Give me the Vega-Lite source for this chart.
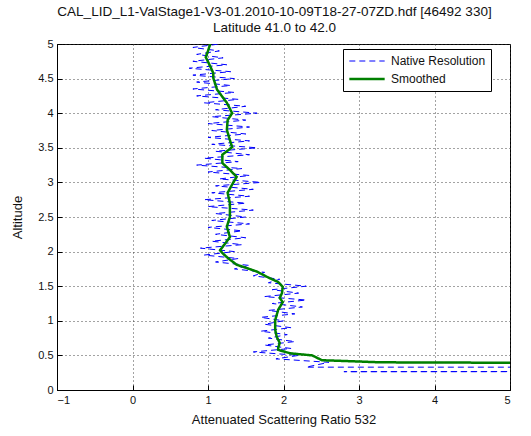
{
  "$schema": "https://vega.github.io/schema/vega-lite/v6.json",
  "width": 453,
  "height": 346,
  "autosize": "none",
  "padding": {"left": 57, "top": 44, "right": 21, "bottom": 46},
  "background": "white",
  "title": {
    "text": ["CAL_LID_L1-ValStage1-V3-01.2010-10-09T18-27-07ZD.hdf [46492 330]", "Latitude 41.0 to 42.0"],
    "font": "Liberation Sans",
    "fontSize": 13.5,
    "fontWeight": "normal",
    "color": "#111",
    "anchor": "middle",
    "dx": -9,
    "offset": 4,
    "lineHeight": 16
  },
  "config": {
    "view": {"stroke": "black", "strokeWidth": 1},
    "font": "Liberation Sans",
    "axis": {
      "labelFont": "Liberation Sans",
      "labelFontSize": 11,
      "labelColor": "#111",
      "titleFont": "Liberation Sans",
      "titleFontSize": 13,
      "titleFontWeight": "normal",
      "titleColor": "#111",
      "domainColor": "black",
      "tickColor": "black",
      "tickSize": -5,
      "labelPadding": 9,
      "gridColor": "#333",
      "gridDash": [1, 3],
      "gridOpacity": 0.9
    }
  },
  "data": {
    "values": [
      {"alt": 0.20, "ratio": 60, "series": "Native Resolution"},
      {"alt": 0.26, "ratio": 60, "series": "Native Resolution"},
      {"alt": 0.265, "ratio": 2.8, "series": "Native Resolution"},
      {"alt": 0.325, "ratio": 60, "series": "Native Resolution"},
      {"alt": 0.33, "ratio": 2.3, "series": "Native Resolution"},
      {"alt": 0.40, "ratio": 2.6, "series": "Native Resolution"},
      {"alt": 0.45, "ratio": 1.9, "series": "Native Resolution"},
      {"alt": 0.50, "ratio": 2.2, "series": "Native Resolution"},
      {"alt": 0.55, "ratio": 1.6, "series": "Native Resolution"},
      {"alt": 0.60, "ratio": 2.1, "series": "Native Resolution"},
      {"alt": 0.65, "ratio": 1.75, "series": "Native Resolution"},
      {"alt": 0.70, "ratio": 2.15, "series": "Native Resolution"},
      {"alt": 0.75, "ratio": 1.8, "series": "Native Resolution"},
      {"alt": 0.80, "ratio": 2.05, "series": "Native Resolution"},
      {"alt": 0.85, "ratio": 1.7, "series": "Native Resolution"},
      {"alt": 0.90, "ratio": 2.1, "series": "Native Resolution"},
      {"alt": 0.95, "ratio": 1.75, "series": "Native Resolution"},
      {"alt": 1.00, "ratio": 2.0, "series": "Native Resolution"},
      {"alt": 1.05, "ratio": 1.7, "series": "Native Resolution"},
      {"alt": 1.10, "ratio": 2.15, "series": "Native Resolution"},
      {"alt": 1.15, "ratio": 1.8, "series": "Native Resolution"},
      {"alt": 1.20, "ratio": 2.25, "series": "Native Resolution"},
      {"alt": 1.25, "ratio": 1.85, "series": "Native Resolution"},
      {"alt": 1.30, "ratio": 2.3, "series": "Native Resolution"},
      {"alt": 1.35, "ratio": 1.75, "series": "Native Resolution"},
      {"alt": 1.40, "ratio": 2.2, "series": "Native Resolution"},
      {"alt": 1.45, "ratio": 1.85, "series": "Native Resolution"},
      {"alt": 1.50, "ratio": 2.3, "series": "Native Resolution"},
      {"alt": 1.55, "ratio": 1.8, "series": "Native Resolution"},
      {"alt": 1.60, "ratio": 1.95, "series": "Native Resolution"},
      {"alt": 1.65, "ratio": 1.6, "series": "Native Resolution"},
      {"alt": 1.70, "ratio": 1.75, "series": "Native Resolution"},
      {"alt": 1.75, "ratio": 1.35, "series": "Native Resolution"},
      {"alt": 1.80, "ratio": 1.55, "series": "Native Resolution"},
      {"alt": 1.85, "ratio": 1.1, "series": "Native Resolution"},
      {"alt": 1.90, "ratio": 1.4, "series": "Native Resolution"},
      {"alt": 1.95, "ratio": 0.95, "series": "Native Resolution"},
      {"alt": 2.00, "ratio": 1.35, "series": "Native Resolution"},
      {"alt": 2.05, "ratio": 0.9, "series": "Native Resolution"},
      {"alt": 2.10, "ratio": 1.45, "series": "Native Resolution"},
      {"alt": 2.15, "ratio": 1.05, "series": "Native Resolution"},
      {"alt": 2.20, "ratio": 1.5, "series": "Native Resolution"},
      {"alt": 2.25, "ratio": 1.1, "series": "Native Resolution"},
      {"alt": 2.30, "ratio": 1.45, "series": "Native Resolution"},
      {"alt": 2.35, "ratio": 1.0, "series": "Native Resolution"},
      {"alt": 2.40, "ratio": 1.55, "series": "Native Resolution"},
      {"alt": 2.45, "ratio": 1.05, "series": "Native Resolution"},
      {"alt": 2.50, "ratio": 1.5, "series": "Native Resolution"},
      {"alt": 2.55, "ratio": 1.1, "series": "Native Resolution"},
      {"alt": 2.60, "ratio": 1.6, "series": "Native Resolution"},
      {"alt": 2.65, "ratio": 1.0, "series": "Native Resolution"},
      {"alt": 2.70, "ratio": 1.5, "series": "Native Resolution"},
      {"alt": 2.75, "ratio": 0.95, "series": "Native Resolution"},
      {"alt": 2.80, "ratio": 1.55, "series": "Native Resolution"},
      {"alt": 2.85, "ratio": 1.05, "series": "Native Resolution"},
      {"alt": 2.90, "ratio": 1.6, "series": "Native Resolution"},
      {"alt": 2.95, "ratio": 1.1, "series": "Native Resolution"},
      {"alt": 3.00, "ratio": 1.7, "series": "Native Resolution"},
      {"alt": 3.05, "ratio": 1.15, "series": "Native Resolution"},
      {"alt": 3.10, "ratio": 1.55, "series": "Native Resolution"},
      {"alt": 3.15, "ratio": 1.0, "series": "Native Resolution"},
      {"alt": 3.20, "ratio": 1.45, "series": "Native Resolution"},
      {"alt": 3.25, "ratio": 0.85, "series": "Native Resolution"},
      {"alt": 3.30, "ratio": 1.4, "series": "Native Resolution"},
      {"alt": 3.35, "ratio": 0.95, "series": "Native Resolution"},
      {"alt": 3.40, "ratio": 1.55, "series": "Native Resolution"},
      {"alt": 3.45, "ratio": 1.1, "series": "Native Resolution"},
      {"alt": 3.50, "ratio": 1.65, "series": "Native Resolution"},
      {"alt": 3.55, "ratio": 1.05, "series": "Native Resolution"},
      {"alt": 3.60, "ratio": 1.55, "series": "Native Resolution"},
      {"alt": 3.65, "ratio": 1.0, "series": "Native Resolution"},
      {"alt": 3.70, "ratio": 1.5, "series": "Native Resolution"},
      {"alt": 3.75, "ratio": 1.05, "series": "Native Resolution"},
      {"alt": 3.80, "ratio": 1.55, "series": "Native Resolution"},
      {"alt": 3.85, "ratio": 1.0, "series": "Native Resolution"},
      {"alt": 3.90, "ratio": 1.5, "series": "Native Resolution"},
      {"alt": 3.95, "ratio": 1.05, "series": "Native Resolution"},
      {"alt": 4.00, "ratio": 1.65, "series": "Native Resolution"},
      {"alt": 4.05, "ratio": 1.1, "series": "Native Resolution"},
      {"alt": 4.10, "ratio": 1.5, "series": "Native Resolution"},
      {"alt": 4.15, "ratio": 0.95, "series": "Native Resolution"},
      {"alt": 4.20, "ratio": 1.4, "series": "Native Resolution"},
      {"alt": 4.25, "ratio": 0.85, "series": "Native Resolution"},
      {"alt": 4.30, "ratio": 1.35, "series": "Native Resolution"},
      {"alt": 4.35, "ratio": 0.8, "series": "Native Resolution"},
      {"alt": 4.40, "ratio": 1.3, "series": "Native Resolution"},
      {"alt": 4.45, "ratio": 0.85, "series": "Native Resolution"},
      {"alt": 4.50, "ratio": 1.35, "series": "Native Resolution"},
      {"alt": 4.55, "ratio": 0.8, "series": "Native Resolution"},
      {"alt": 4.60, "ratio": 1.3, "series": "Native Resolution"},
      {"alt": 4.65, "ratio": 0.75, "series": "Native Resolution"},
      {"alt": 4.70, "ratio": 1.25, "series": "Native Resolution"},
      {"alt": 4.75, "ratio": 0.8, "series": "Native Resolution"},
      {"alt": 4.80, "ratio": 1.2, "series": "Native Resolution"},
      {"alt": 4.85, "ratio": 0.85, "series": "Native Resolution"},
      {"alt": 4.90, "ratio": 1.15, "series": "Native Resolution"},
      {"alt": 4.95, "ratio": 0.8, "series": "Native Resolution"},
      {"alt": 5.00, "ratio": 1.15, "series": "Native Resolution"},
      {"alt": 0.39, "ratio": 6.0, "series": "Smoothed"},
      {"alt": 0.40, "ratio": 3.28, "series": "Smoothed"},
      {"alt": 0.42, "ratio": 2.79, "series": "Smoothed"},
      {"alt": 0.43, "ratio": 2.51, "series": "Smoothed"},
      {"alt": 0.50, "ratio": 2.38, "series": "Smoothed"},
      {"alt": 0.53, "ratio": 2.09, "series": "Smoothed"},
      {"alt": 0.58, "ratio": 1.93, "series": "Smoothed"},
      {"alt": 0.61, "ratio": 1.93, "series": "Smoothed"},
      {"alt": 0.68, "ratio": 1.95, "series": "Smoothed"},
      {"alt": 0.77, "ratio": 1.91, "series": "Smoothed"},
      {"alt": 0.87, "ratio": 1.89, "series": "Smoothed"},
      {"alt": 1.01, "ratio": 1.89, "series": "Smoothed"},
      {"alt": 1.16, "ratio": 1.93, "series": "Smoothed"},
      {"alt": 1.27, "ratio": 1.99, "series": "Smoothed"},
      {"alt": 1.33, "ratio": 1.95, "series": "Smoothed"},
      {"alt": 1.40, "ratio": 1.98, "series": "Smoothed"},
      {"alt": 1.49, "ratio": 1.99, "series": "Smoothed"},
      {"alt": 1.56, "ratio": 1.93, "series": "Smoothed"},
      {"alt": 1.63, "ratio": 1.79, "series": "Smoothed"},
      {"alt": 1.71, "ratio": 1.65, "series": "Smoothed"},
      {"alt": 1.76, "ratio": 1.52, "series": "Smoothed"},
      {"alt": 1.81, "ratio": 1.38, "series": "Smoothed"},
      {"alt": 1.91, "ratio": 1.26, "series": "Smoothed"},
      {"alt": 1.98, "ratio": 1.19, "series": "Smoothed"},
      {"alt": 2.02, "ratio": 1.16, "series": "Smoothed"},
      {"alt": 2.12, "ratio": 1.23, "series": "Smoothed"},
      {"alt": 2.21, "ratio": 1.29, "series": "Smoothed"},
      {"alt": 2.36, "ratio": 1.25, "series": "Smoothed"},
      {"alt": 2.50, "ratio": 1.29, "series": "Smoothed"},
      {"alt": 2.60, "ratio": 1.29, "series": "Smoothed"},
      {"alt": 2.70, "ratio": 1.29, "series": "Smoothed"},
      {"alt": 2.85, "ratio": 1.26, "series": "Smoothed"},
      {"alt": 2.99, "ratio": 1.33, "series": "Smoothed"},
      {"alt": 3.08, "ratio": 1.38, "series": "Smoothed"},
      {"alt": 3.18, "ratio": 1.29, "series": "Smoothed"},
      {"alt": 3.28, "ratio": 1.19, "series": "Smoothed"},
      {"alt": 3.40, "ratio": 1.19, "series": "Smoothed"},
      {"alt": 3.51, "ratio": 1.32, "series": "Smoothed"},
      {"alt": 3.61, "ratio": 1.29, "series": "Smoothed"},
      {"alt": 3.76, "ratio": 1.25, "series": "Smoothed"},
      {"alt": 3.90, "ratio": 1.26, "series": "Smoothed"},
      {"alt": 4.00, "ratio": 1.32, "series": "Smoothed"},
      {"alt": 4.15, "ratio": 1.25, "series": "Smoothed"},
      {"alt": 4.34, "ratio": 1.12, "series": "Smoothed"},
      {"alt": 4.51, "ratio": 1.07, "series": "Smoothed"},
      {"alt": 4.58, "ratio": 1.07, "series": "Smoothed"},
      {"alt": 4.70, "ratio": 1.02, "series": "Smoothed"},
      {"alt": 4.81, "ratio": 0.97, "series": "Smoothed"},
      {"alt": 4.90, "ratio": 1.0, "series": "Smoothed"},
      {"alt": 5.00, "ratio": 1.03, "series": "Smoothed"}
    ]
  },
  "mark": {"type": "line", "clip": true},
  "encoding": {
    "x": {
      "field": "ratio", "type": "quantitative",
      "scale": {"domain": [-1, 5], "nice": false, "zero": false},
      "axis": {"title": "Attenuated Scattering Ratio 532", "values": [-1, 0, 1, 2, 3, 4, 5], "format": "d", "titlePadding": 8}
    },
    "y": {
      "field": "alt", "type": "quantitative",
      "scale": {"domain": [0, 5], "nice": false},
      "axis": {"title": "Altitude", "values": [0, 0.5, 1, 1.5, 2, 2.5, 3, 3.5, 4, 4.5, 5], "labelExpr": "datum.value + ''", "titlePadding": 13}
    },
    "order": {"field": "alt", "type": "quantitative"},
    "color": {
      "field": "series", "type": "nominal",
      "scale": {"domain": ["Native Resolution", "Smoothed"], "range": ["#0000ff", "#008000"]},
      "legend": {
        "title": null, "orient": "none", "legendX": 286, "legendY": 5,
        "strokeColor": "black", "fillColor": "white", "padding": 5,
        "symbolType": "stroke", "symbolSize": 1250, "clipHeight": 14, "labelFontSize": 12,
        "labelFont": "Liberation Sans", "labelColor": "#111", "rowPadding": 4, "labelOffset": 5
      }
    },
    "strokeDash": {
      "field": "series", "type": "nominal",
      "scale": {"domain": ["Native Resolution", "Smoothed"], "range": [[6, 4], [1, 0]]}
    },
    "strokeWidth": {
      "field": "series", "type": "nominal",
      "scale": {"domain": ["Native Resolution", "Smoothed"], "range": [1, 2.5]}
    }
  }
}
